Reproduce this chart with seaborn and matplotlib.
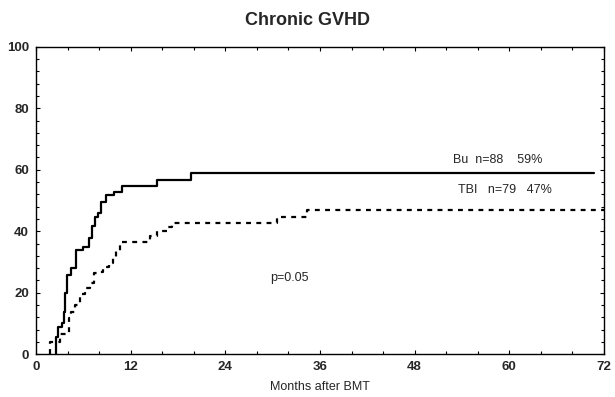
import numpy as np
import pandas as pd
import matplotlib
matplotlib.use('Agg')
import matplotlib.pyplot as plt
from matplotlib.ticker import MultipleLocator
import seaborn as sns

# Bu 곡선 (months, %)
bu_months = [2.5, 2.5, 2.8, 3.3, 3.5, 3.7, 3.9, 4.5, 5.1, 5.9, 6.7, 7.1, 7.5, 7.9,
             8.3, 8.9, 9.9, 10.9, 15.3, 19.7, 70.8]
bu_pct = [0, 5.6, 8.9, 10.0, 13.8, 19.8, 25.7, 27.9, 33.9, 35.0, 37.7, 41.8, 44.7, 45.8,
          49.6, 51.8, 52.9, 54.7, 56.7, 58.9, 58.9]

# TBI 곡선
tbi_months = [1.8, 1.8, 3.0, 4.2, 4.5, 4.9, 5.6, 6.2, 6.8, 7.3, 7.9, 8.5, 9.2, 9.8,
              10.2, 10.7, 14.5, 15.3, 16.6, 17.2, 30.5, 34.3, 72]
tbi_pct = [0, 4.0, 6.5, 11.6, 13.8, 16.0, 19.5, 21.4, 23.0, 26.3, 26.8, 28.4, 29.5, 31.5,
           33.5, 36.5, 38.5, 40.0, 41.5, 42.7, 44.7, 46.8, 46.8]

x_ticks = [0, 12, 24, 36, 48, 60, 72]
y_ticks = [0, 20, 40, 60, 80, 100]
labels = {'Bu': 'Bu  n=88    59%', 'TBI': 'TBI   n=79   47%'}

sns.set_style('white')
plt.rcParams['font.family'] = ['Liberation Sans', 'DejaVu Sans']

fig = plt.figure(figsize=(6.15, 3.97), dpi=100)
ax = fig.add_axes([0.0585, 0.108, 0.9235, 0.774])

df_bu = pd.DataFrame({'month': bu_months, 'pct': bu_pct})
df_tbi = pd.DataFrame({'month': tbi_months, 'pct': tbi_pct})

sns.lineplot(data=df_bu, x='month', y='pct', ax=ax, color='black', lw=1.6,
             drawstyle='steps-post', estimator=None, sort=False)
sns.lineplot(data=df_tbi, x='month', y='pct', ax=ax, color='black', lw=1.6,
             drawstyle='steps-post', estimator=None, sort=False, dashes=False,
             linestyle=(0, (2.2, 2.4)))

ax.set_xlim(0, 72)
ax.set_ylim(0, 100)
ax.set_xticks(x_ticks)
ax.set_yticks(y_ticks)
ax.xaxis.set_minor_locator(MultipleLocator(4))
ax.yaxis.set_minor_locator(MultipleLocator(4))
ax.tick_params(which='both', direction='in', top=True, right=True, bottom=True, left=True,
               width=0.8, color='black')
ax.tick_params(which='major', length=3, labelsize=9.5, pad=5)
ax.tick_params(which='minor', length=2)
for lab in ax.get_xticklabels() + ax.get_yticklabels():
    lab.set_fontweight('bold')
for sp in ax.spines.values():
    sp.set_color('black')
    sp.set_linewidth(1.0)

ax.set_xlabel('Months after BMT', fontsize=9, labelpad=6)
ax.set_ylabel('')

ax.text(52.9, 63.2, labels['Bu'], fontsize=9, va='center', ha='left')
ax.text(53.5, 53.4, labels['TBI'], fontsize=9, va='center', ha='left')
ax.text(29.7, 24.8, 'p=0.05', fontsize=9, va='center', ha='left')

fig.text(0.5, 0.948, 'Chronic GVHD', fontsize=13, fontweight='bold', ha='center', va='center')

fig.savefig('out.png', dpi=100)
